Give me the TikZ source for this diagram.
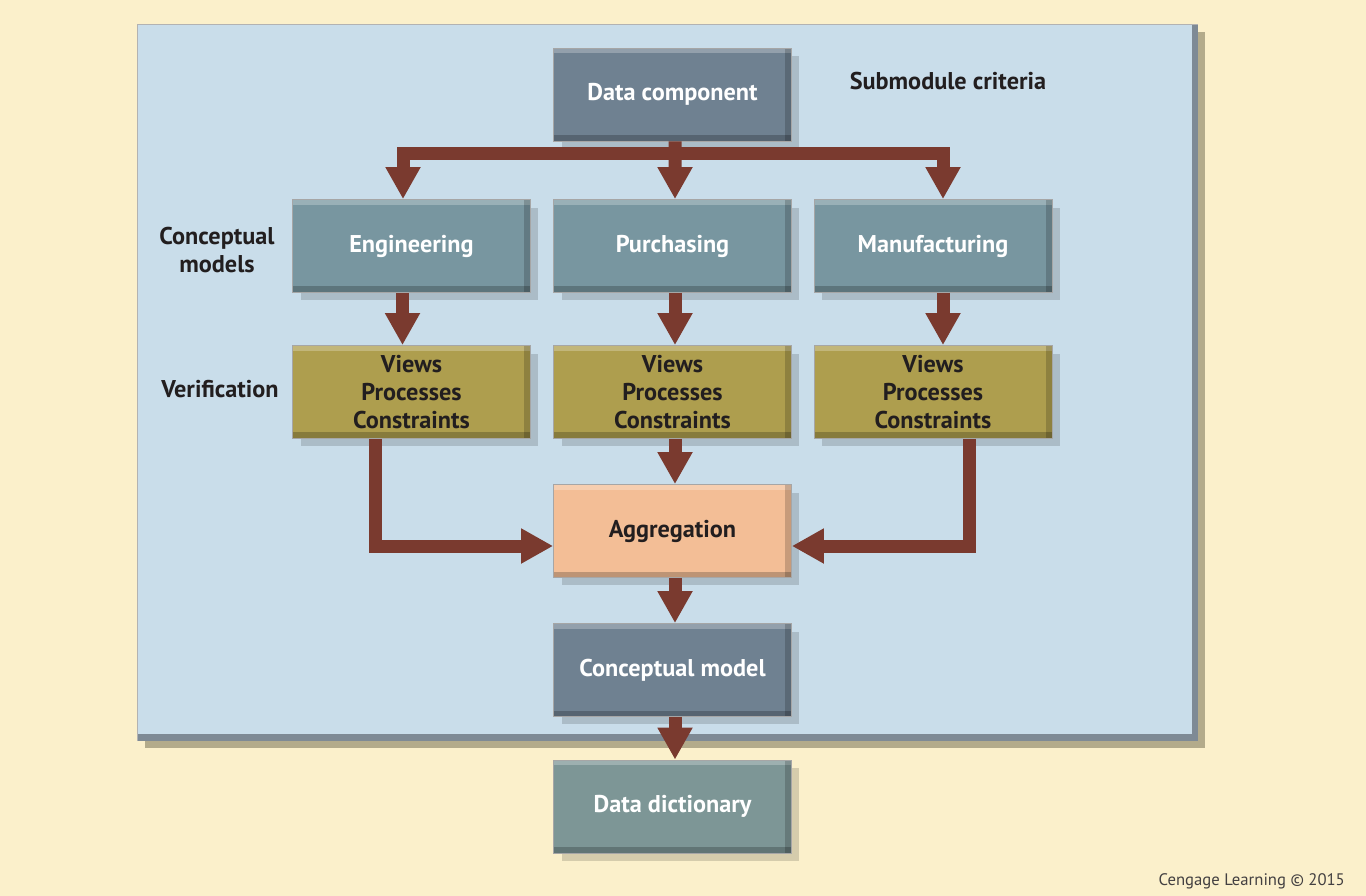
\documentclass[tikz,border=0pt]{standalone}
\usepackage{fontspec}
\setmainfont{PT Sans}
\usetikzlibrary{arrows.meta,shadows,positioning}
\definecolor{bgcream}{HTML}{FBF0CB}
\definecolor{panelblue}{HTML}{C9DDEA}
\definecolor{paneledge}{HTML}{7E8A95}
\definecolor{panelshade}{HTML}{B3AB8B}
\definecolor{slate}{HTML}{6F8191}
\definecolor{teal}{HTML}{7896A0}
\definecolor{tealgreen}{HTML}{7D9696}
\definecolor{olive}{HTML}{AE9E4E}
\definecolor{salmon}{HTML}{F3BE96}
\definecolor{flowred}{HTML}{7A3A2F}
\definecolor{ink}{HTML}{221E1F}
\tikzset{
  box/.style={minimum width=4.76cm, minimum height=1.86cm, inner sep=0pt, align=center,
    draw=black!35, line width=0.5pt,
    drop shadow={shadow xshift=0.16cm, shadow yshift=-0.16cm, opacity=0.15, fill=black},
    path picture={
      \fill[white, opacity=0.25] (path picture bounding box.north west) rectangle ([yshift=-0.1cm]path picture bounding box.north east);
      \fill[black, opacity=0.22] (path picture bounding box.south west) rectangle ([yshift=0.12cm]path picture bounding box.south east);
      \fill[black, opacity=0.18] ([xshift=-0.12cm]path picture bounding box.south east) rectangle (path picture bounding box.north east);}},
  darkbox/.style={box, fill=#1, text=white},
  lightbox/.style={box, fill=#1, text=ink},
  flow/.style={draw=flowred, line width=0.26cm, -{Triangle[width=0.66cm, length=0.64cm]}},
  bar/.style={draw=flowred, line width=0.26cm},
  tag/.style={text=ink, align=center}
}
\begin{document}
\begin{tikzpicture}[x=0.02cm, y=-0.02cm, font=\fontsize{13.8}{15.8}\selectfont\bfseries, line join=miter]
\useasboundingbox (0,0) rectangle (1366,896);
\fill[bgcream] (0,0) rectangle (1366,896);
% panel
\fill[panelshade] (145,32) rectangle (1205,748);
\fill[paneledge] (137,24) rectangle (1198,741);
\fill[panelblue] (137,24) rectangle (1192,734);
\draw[black!30, line width=0.5pt] (137,741) -- (137,24) -- (1198,24);
% boxes
\node[darkbox=slate] (data) at (672.5,94.5) {Data component};
\node[darkbox=teal] (eng) at (411.5,246) {Engineering};
\node[darkbox=teal] (pur) at (672.5,246) {Purchasing};
\node[darkbox=teal] (man) at (933,246) {Manufacturing};
\node[lightbox=olive] (veng) at (411.5,392) {Views\\Processes\\Constraints};
\node[lightbox=olive] (vpur) at (672.5,392) {Views\\Processes\\Constraints};
\node[lightbox=olive] (vman) at (933,392) {Views\\Processes\\Constraints};
\node[lightbox=salmon] (agg) at (672.5,531) {Aggregation};
\node[darkbox=slate] (cmod) at (672.5,670) {Conceptual model};
\node[darkbox=tealgreen] (dict) at (672.5,806.5) {Data dictionary};
% labels
\node[tag] (crit) at (948,81) {Submodule criteria};
\node[tag] (cmods) at (217,250) {Conceptual\\models};
\node[tag] (verif) at (220,389) {Verification};
\node[text=ink!85, font=\fontsize{9.5}{11}\selectfont, anchor=east] (credit) at (1351,881) {Cengage Learning © 2015};
% connectors
\coordinate (split) at (675,153);
\draw[bar] ([xshift=0.05cm]data.south) -- (split);
\draw[flow] (split) -| ([xshift=-0.17cm]eng.north);
\draw[flow] (split) -- ([xshift=0.05cm]pur.north);
\draw[flow] (split) -| ([xshift=0.2cm]man.north);
\draw[flow] ([xshift=-0.18cm]eng.south) -- ([xshift=-0.18cm]veng.north);
\draw[flow] ([xshift=0.05cm]pur.south) -- ([xshift=0.05cm]vpur.north);
\draw[flow] ([xshift=0.2cm]man.south) -- ([xshift=0.2cm]vman.north);
\draw[flow] ([xshift=-0.72cm]veng.south) |- ([yshift=-0.3cm]agg.west);
\draw[flow] ([xshift=0.72cm]vman.south) |- ([yshift=-0.3cm]agg.east);
\draw[flow] ([xshift=0.05cm]vpur.south) -- ([xshift=0.05cm]agg.north);
\draw[flow] ([xshift=0.05cm]agg.south) -- ([xshift=0.05cm]cmod.north);
\draw[flow] ([xshift=0.05cm]cmod.south) -- ([xshift=0.05cm]dict.north);
\end{tikzpicture}
\end{document}
